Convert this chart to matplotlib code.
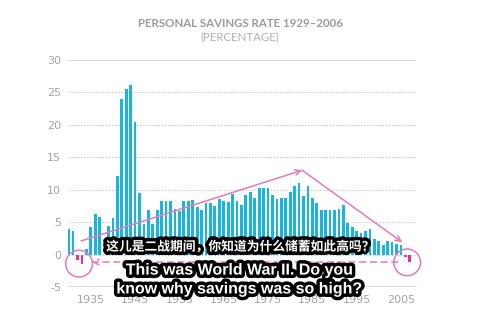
import numpy as np
import matplotlib
matplotlib.use("Agg")
import matplotlib.pyplot as plt
import matplotlib.patheffects as pe

# personal savings rate, percent
years = list(range(1929, 2007))
rates = [
    4.0, 3.7, -0.9, -1.5, 0.9, 4.3, 6.2, 5.8, 0.0, 4.4,
    5.6, 12.1, 24.0, 25.6, 26.2, 20.5, 9.5, 4.7, 6.8, 4.7,
    6.9, 8.2, 8.2, 8.2, 7.1, 6.7, 8.2, 8.2, 8.4, 7.3,
    6.9, 8.0, 8.0, 7.5, 8.5, 8.3, 8.1, 9.3, 8.2, 7.7,
    9.2, 9.7, 8.7, 10.3, 10.3, 10.3, 9.2, 8.5, 8.7, 8.7,
    9.7, 10.6, 11.0, 9.0, 10.5, 8.7, 7.9, 6.8, 6.9, 6.9,
    6.9, 7.0, 7.6, 4.8, 4.2, 3.7, 3.3, 3.7, 4.0, 2.4,
    2.1, 1.4, 2.1, 2.0, 1.7, 1.4, -0.4, -1.1,
]
y_ticks = [-5, 0, 5, 10, 15, 20, 25, 30]
x_labels = [1935, 1945, 1955, 1965, 1975, 1985, 1995, 2005]

title = "PERSONAL SAVINGS RATE 1929\u20132006"
subtitle = "(PERCENTAGE)"
caption_cn = "这儿是二战期间，你知道为什么储蓄如此高吗？"
caption_en = ["This was World War II. Do you", "know why savings was so high?"]

CYAN = "#19b5da"
HOT_PINK = "#e8338e"
NOTE = "#e07ac2"
GREY = "#a3a3a3"


def draw_bars(ax):
    colors = [CYAN if r >= 0 else HOT_PINK for r in rates]
    ax.bar(years, rates, width=0.62, color=colors, zorder=2)


def draw_grid(ax):
    for y in y_ticks:
        if y in (30, -5):
            ax.axhline(y, color="#dcdcdc", lw=1.4, zorder=1)
        else:
            ax.axhline(y, color="#c4c4c4", lw=0.8, ls=(0, (1.2, 1.6)), zorder=1)


def draw_notes(ax):
    arrow = dict(arrowstyle="->", color=NOTE, lw=1.1, shrinkA=0, shrinkB=0,
                 mutation_scale=10)
    ax.annotate("", xy=(1981.7, 13.0), xytext=(1931.8, 2.1), arrowprops=arrow)
    ax.annotate("", xy=(2004.3, 1.9), xytext=(1981.7, 13.0), arrowprops=arrow)
    dashed = dict(arrow, linestyle=(0, (4, 3)))
    ax.annotate("", xy=(1934.2, -1.15), xytext=(2003.3, -1.15), arrowprops=dashed)
    ax.scatter([1931.35, 2005.4], [-1.4, -1.2], s=370, facecolors="none",
               edgecolors=NOTE, linewidths=1.1, zorder=4, clip_on=False)


def draw_captions(fig):
    stroke = [pe.withStroke(linewidth=5, foreground="black")]
    fig.text(0.5, 0.228, caption_cn, ha="center", va="center", color="white",
             fontsize=9.2, fontweight="bold",
             family=["Noto Sans CJK SC", "DejaVu Sans"], path_effects=stroke)
    fig.text(0.5, 0.156, caption_en[0], ha="center", va="center", color="white",
             fontsize=11.5, fontweight="bold", family="Liberation Sans",
             path_effects=stroke)
    fig.text(0.5, 0.097, caption_en[1], ha="center", va="center", color="white",
             fontsize=11.5, fontweight="bold", family="Liberation Sans",
             path_effects=stroke)


def main():
    fig = plt.figure(figsize=(4.8, 3.2), dpi=100)
    ax = fig.add_axes([0.1417, 0.1031, 0.725, 0.7094])

    draw_grid(ax)
    draw_bars(ax)
    draw_notes(ax)

    ax.set_xlim(1928.86, 2007.4)
    ax.set_ylim(-5, 30)
    ax.set_yticks(y_ticks)
    ax.set_yticklabels([str(t) for t in y_ticks])
    # the original puts each decade label one slot to the left
    ax.set_xticks([x - 1 for x in x_labels])
    ax.set_xticklabels([str(x) for x in x_labels])
    ax.tick_params(length=0, colors=GREY, labelsize=8)
    ax.tick_params(axis="y", pad=5)
    ax.tick_params(axis="x", pad=6)
    for s in ax.spines.values():
        s.set_visible(False)

    fig.text(0.5, 0.928, title, ha="center", va="center", color="#9a9a9a",
             fontsize=8.3, fontweight="bold", family="Lato")
    fig.text(0.5, 0.884, subtitle, ha="center", va="center", color="#b0b0b0",
             fontsize=8.3, family="Lato")

    draw_captions(fig)
    fig.savefig("out.png", dpi=100)


if __name__ == "__main__":
    main()
